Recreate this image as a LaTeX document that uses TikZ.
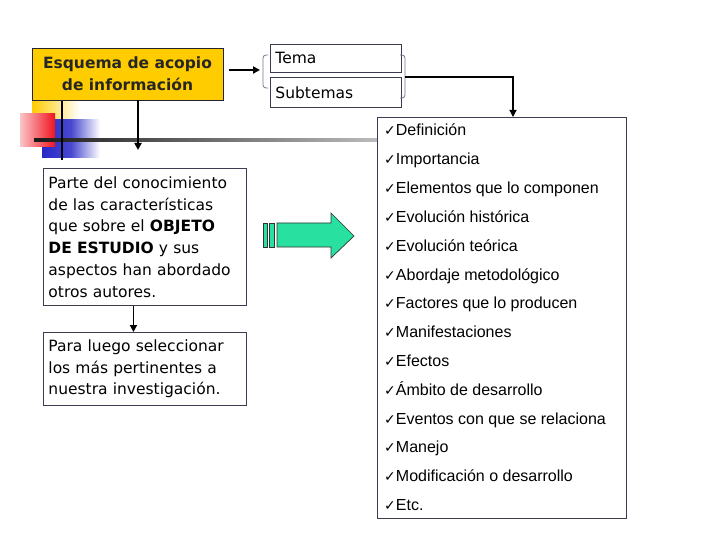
\documentclass[tikz,border=0pt]{standalone}
\usepackage{fontspec}
\setmainfont{DejaVu Sans}
\newfontfamily\listfont{Liberation Sans}
\newfontfamily\chkfont{DejaVu Sans}
\usetikzlibrary{arrows.meta}
\definecolor{boxline}{RGB}{60,60,80}
\definecolor{gold}{RGB}{255,204,0}
\definecolor{aqua}{RGB}{40,224,160}
\definecolor{sqred}{RGB}{240,20,30}
\definecolor{sqblue}{RGB}{40,40,200}
\tikzset{
  arr/.style={line width=1.8pt,-{Triangle[length=7pt,width=7pt]}},
  plainbox/.style={draw=boxline,line width=0.9pt,fill=white,anchor=north west,inner sep=0pt},
  item/.style={anchor=base west,inner sep=0pt,font=\listfont\fontsize{16}{18}\selectfont},
  bracket/.style={draw=boxline!70,line width=0.8pt,rounded corners=3pt}
}
\newcommand{\chk}{{\chkfont\fontsize{14}{16}\selectfont ✓}}
\begin{document}
\begin{tikzpicture}[x=1pt,y=-1pt]
\useasboundingbox[fill=white] (0,0) rectangle (720,540);
% decorative squares
\shade[left color=gold,right color=white] (32,100) rectangle (80,122);
\shade[left color=sqblue,right color=white,middle color=sqblue!85] (42,120) rectangle (100,158);
\shade[left color=sqred!25,right color=sqred] (20,114) rectangle (55,147);
\shade[left color=black!90,middle color=black!65,right color=black!25] (34,138.5) rectangle (385,141.5);
\draw[line width=2.6pt] (62,100) -- (62,160);
% title
\node[draw=boxline!60!black,line width=0.9pt,fill=gold,minimum width=191pt,minimum height=52pt,
  align=center,font=\bfseries\fontsize{15.5}{22}\selectfont,text=black!85] (esq) at (127.5,74)
  {Esquema de acopio\\de información};
% tema boxes
\node[plainbox,minimum width=129pt,minimum height=28pt,text width=121pt,inner xsep=5pt,align=left,
  font=\fontsize{15.5}{18}\selectfont] (tema) at (270,44) {Tema};
\node[plainbox,minimum width=129pt,minimum height=30pt,text width=121pt,inner xsep=5pt,align=left,
  font=\fontsize{15.5}{18}\selectfont] (sub) at (270,77) {Subtemas};
\draw[bracket] (268,55) -- (263,55) -- (263,88) -- (268,88);
\draw[bracket] (400,55) -- (405,55) -- (405,98) -- (400,98);
\coordinate (lb) at (260,70);
\coordinate (rb) at (405,77);
\draw[arr] ([xshift=6pt]esq.east |- lb) -- (lb);
% list box
\node[plainbox,minimum width=249pt,minimum height=401pt] (list) at (377,117) {};
\coordinate (lt) at (513,117);
\draw[line width=1.3pt,-{Triangle[length=7pt,width=7pt]}] (rb) -| (lt);
\foreach \t [count=\k from 0] in {Definición,Importancia,Elementos que lo componen,Evolución histórica,
  Evolución teórica,Abordaje metodológico,Factores que lo producen,Manifestaciones,Efectos,
  Ámbito de desarrollo,Eventos con que se relaciona,Manejo,Modificación o desarrollo,Etc.}{
  \node[item] (i\k) at (384,136+28.8*\k) {\chk\t};
}
% left text boxes
\node[plainbox,minimum width=203pt,minimum height=137pt,text width=193pt,inner xsep=5pt,align=left,
  font=\fontsize{15.5}{21.8}\selectfont] (b1) at (43,168)
  {Parte del conocimiento\\de las características\\que sobre el \textbf{OBJETO}\\\textbf{DE ESTUDIO} y sus\\aspectos han abordado\\otros autores.};
\node[plainbox,minimum width=203pt,minimum height=73pt,text width=193pt,inner xsep=5pt,align=left,
  font=\fontsize{15.5}{21.6}\selectfont] (b2) at (43,332)
  {Para luego seleccionar\\los más pertinentes a\\nuestra investigación.};
\coordinate (dn) at (138,150);
\draw[arr] ([xshift=10.5pt]esq.south) -- (dn);
\draw[arr] ([xshift=-11.5pt]b1.south) -- ([xshift=-11.5pt]b2.north);
% green arrow
\draw[fill=aqua,draw=black!80,line width=0.7pt] (263,223) rectangle (267,247);
\draw[fill=aqua,draw=black!80,line width=0.7pt] (269,223) rectangle (274,247);
\draw[fill=aqua,draw=black!80,line width=0.7pt] (277,223) -- (331,223) -- (331,213) -- (354,236)
  -- (331,258) -- (331,247) -- (277,247) -- cycle;
\end{tikzpicture}
\end{document}
